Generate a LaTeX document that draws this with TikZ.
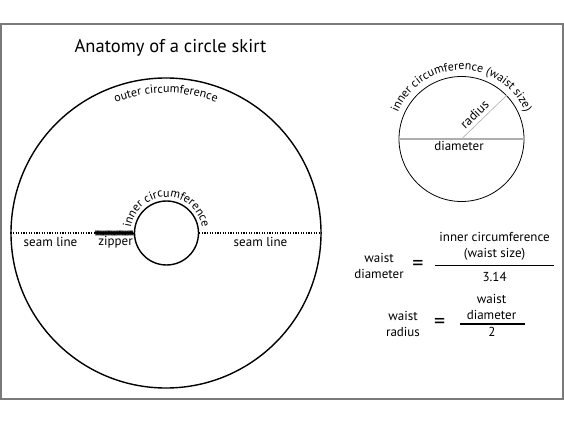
\documentclass[tikz,border=0pt]{standalone}
\usepackage{fontspec}
\setmainfont{PT Sans}
\usepackage{tikz}
\usetikzlibrary{positioning,decorations.text,decorations.pathmorphing}
\definecolor{frame}{HTML}{7A7A7A}
\definecolor{guide}{HTML}{AEAEAE}
\newcommand{\skirtfont}{\fontsize{13}{16}\selectfont}
\newcommand{\curvefont}{\fontsize{12}{14}\selectfont}
\tikzset{
  ring/.style={circle,draw,inner sep=0pt,line width=1.4pt},
  lbl/.style={font=\skirtfont,inner sep=1pt,align=center},
  seam/.style={line width=1.2pt,dash pattern=on 1.2pt off 1.4pt},
  zipper/.style={decorate,decoration={zigzag,segment length=1.1pt,amplitude=1.1pt},line width=0.9pt},
  bar/.style={line width=1.3pt},
  eqsign/.style={font=\fontsize{22}{22}\selectfont,inner sep=0pt},
  arctext/.style={decorate,decoration={text along path,text align=center,text={#1}}},
}
\begin{document}
\curvefont
\begin{tikzpicture}[x=1pt,y=1pt]
\useasboundingbox (0,0) rectangle (564,423);
\draw[frame,line width=1.5pt] (0.75,24) rectangle (563,399);
\node[font=\fontsize{18.5}{20}\selectfont] (title) at (170.5,375) {Anatomy of a circle skirt};
\node[ring,minimum size=310pt] (outer) at (166,190) {};
\node[ring,minimum size=64pt] (hole) at (166.5,190) {};
\coordinate (zipstart) at (95,190);
\draw[seam] (outer.west) -- (zipstart);
\draw[zipper] (zipstart) -- (hole.west);
\draw[seam] (hole.east) -- (outer.east);
\node[lbl] (seamL) at (50.5,181) {seam line};
\node[lbl] (zip) at (115.5,181) {zipper};
\node[lbl] (seamR) at (260.5,181) {seam line};
\path[arctext={outer circumference}] (166,190) ++(130:140) arc[start angle=130,end angle=50,radius=140];
\path[arctext={inner circumference}] (166.5,190) ++(185:36) arc[start angle=185,end angle=-5,radius=36];
\node[circle,draw,inner sep=0pt,line width=0.8pt,minimum size=125pt] (waist) at (461.5,284) {};
\draw[guide,line width=1.6pt] (waist.west) -- (waist.east);
\draw[guide,line width=0.6pt] (waist.center) -- (waist.44);
\node[lbl,rotate=44] (rad) at (474.5,308.5) {radius};
\node[lbl] (dia) at (459,277.5) {diameter};
\path[arctext={inner circumference (waist size)}] (461.5,284) ++(190:69) arc[start angle=190,end angle=-10,radius=69];
\node[lbl] (wd) at (379,157) {waist\\diameter};
\node[eqsign] (eq1) at (418,157.7) {=};
\node[lbl] (num1) at (494.6,176.7) {inner circumference\\(waist size)};
\node[lbl] (den1) at (494.6,146.3) {3.14};
\draw[bar] (435,157.3) -- (554,157.3);
\node[lbl] (wr) at (403,99) {waist\\radius};
\node[eqsign] (eq2) at (439.6,99.5) {=};
\node[lbl] (num2) at (491.5,116) {waist\\diameter};
\node[lbl] (den2) at (492,90.7) {2};
\draw[bar] (459.7,99) -- (525,99);
\end{tikzpicture}
\end{document}
